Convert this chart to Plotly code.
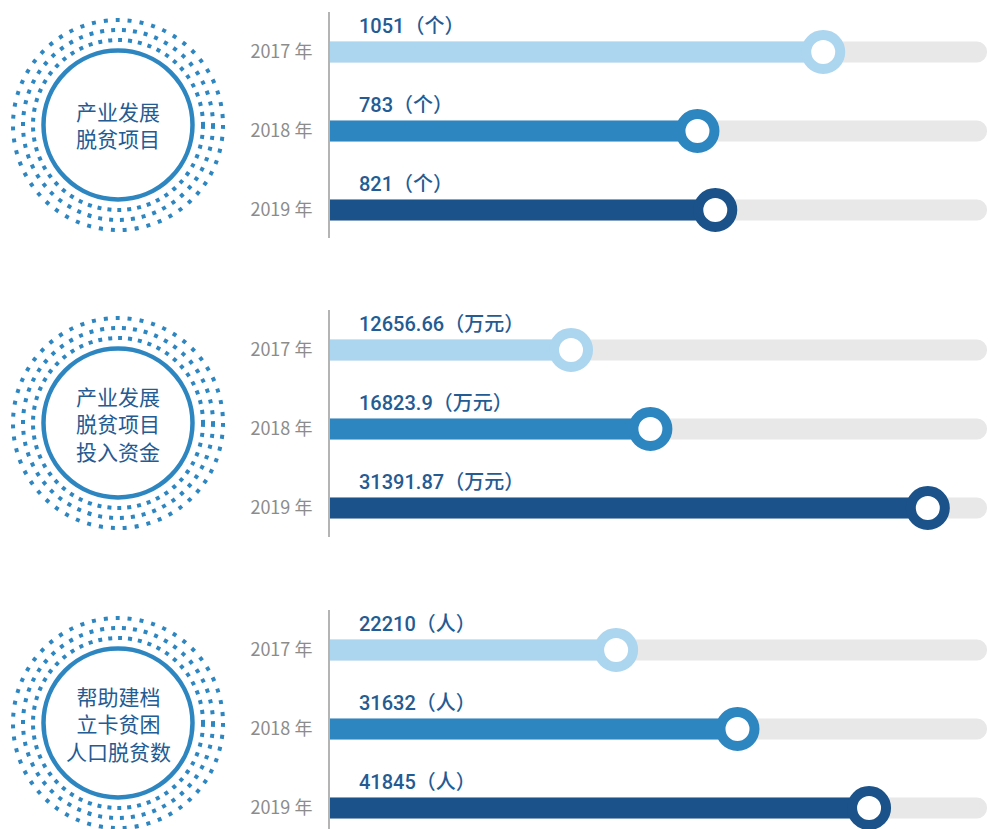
import plotly.graph_objects as go

# ---------------- data ----------------
years = ["2017 年", "2018 年", "2019 年"]
panel_titles = [
    "产业发展<br>脱贫项目",
    "产业发展<br>脱贫项目<br>投入资金",
    "帮助建档<br>立卡贫困<br>人口脱贫数",
]
values_projects = [1051, 783, 821]
values_funds = [12656.66, 16823.9, 31391.87]
values_people = [22210, 31632, 41845]
value_texts_projects = ["1051（个）", "783（个）", "821（个）"]
value_texts_funds = ["12656.66（万元）", "16823.9（万元）", "31391.87（万元）"]
value_texts_people = ["22210（人）", "31632（人）", "41845（人）"]
axis_max = [1400, 34500, 51000]

panels_values = [values_projects, values_funds, values_people]
panels_texts = [value_texts_projects, value_texts_funds, value_texts_people]

# ---------------- style ----------------
W, H = 988, 829
year_colors = ["#acd5ef", "#2e86c1", "#1a5289"]
track_color = "#e8e8e8"
text_blue = "#245b92"
ring_blue = "#2e86c1"
year_gray = "#8c8c8c"

X_LEFT, X_RIGHT = 330, 987
SPACING = 79.0
bar_centers = [52, 350, 650]
axis_spans = [(12, 238), (310, 537), (610, 829)]
badge_centers = [(118, 125), (118, 423), (118, 723)]

fig = go.Figure()
layout_axes = {}
annotations = []
shapes = []

for p in range(3):
    ax = "" if p == 0 else str(p + 1)
    xa, ya = "x" + ax, "y" + ax
    vals = panels_values[p]
    # track
    fig.add_trace(go.Bar(
        x=[axis_max[p]] * 3, y=years, orientation="h", width=0.266,
        marker=dict(color=track_color, cornerradius=10, line=dict(width=0)),
        xaxis=xa, yaxis=ya, hoverinfo="skip", showlegend=False))
    # value bars
    fig.add_trace(go.Bar(
        x=vals, y=years, orientation="h", width=0.266,
        marker=dict(color=year_colors, line=dict(width=0)),
        xaxis=xa, yaxis=ya, hoverinfo="skip", showlegend=False))
    # end markers
    fig.add_trace(go.Scatter(
        x=vals, y=years, mode="markers",
        marker=dict(size=34, color="white", line=dict(width=10, color=year_colors)),
        xaxis=xa, yaxis=ya, hoverinfo="skip", showlegend=False, cliponaxis=False))

    c0 = bar_centers[p]
    top, bot = axis_spans[p]
    top_idx = -(c0 - top) / SPACING
    bot_idx = (bot - c0) / SPACING
    layout_axes["xaxis" + ax] = dict(
        domain=[X_LEFT / W, X_RIGHT / W], range=[0, axis_max[p]],
        visible=False, anchor=ya, fixedrange=True)
    layout_axes["yaxis" + ax] = dict(
        domain=[1 - bot / H, 1 - top / H], range=[bot_idx, top_idx],
        type="category", categoryorder="array", categoryarray=years,
        anchor=xa, showline=True, linecolor="#b4b4b4", linewidth=2,
        showgrid=False, zeroline=False, ticks="", ticklabelstandoff=12,
        tickfont=dict(family="Noto Sans CJK SC", size=18, color=year_gray),
        fixedrange=True)

    for i, t in enumerate(panels_texts[p]):
        annotations.append(dict(
            x=0, y=years[i], xref=xa, yref=ya, text=t, showarrow=False,
            xanchor="left", yanchor="middle", xshift=27, yshift=26,
            font=dict(family="Roboto, Noto Sans CJK SC", size=20, weight=500,
                      color=text_blue)))

    cx, cy = badge_centers[p]
    annotations.append(dict(
        x=cx / W, y=1 - cy / H, xref="paper", yref="paper",
        text=panel_titles[p], showarrow=False, xanchor="center", yanchor="middle",
        font=dict(family="Noto Sans CJK SC", size=21, color=text_blue)))

    def circ(r, width, dash):
        return dict(type="circle", xref="paper", yref="paper",
                    x0=(cx - r) / W, x1=(cx + r) / W,
                    y0=1 - (cy + r) / H, y1=1 - (cy - r) / H,
                    line=dict(color=ring_blue, width=width, dash=dash),
                    fillcolor="rgba(0,0,0,0)", layer="above")
    shapes.append(circ(74.5, 4.5, "solid"))
    shapes.append(circ(105, 4, "4px,8px"))
    shapes.append(circ(95, 4, "4px,7px"))
    shapes.append(circ(85, 4, "4px,6px"))

fig.update_layout(
    width=W, height=H, margin=dict(l=0, r=0, t=0, b=0),
    paper_bgcolor="white", plot_bgcolor="white",
    barmode="overlay", showlegend=False, hovermode=False,
    annotations=annotations, shapes=shapes, **layout_axes)

fig.write_html("out.html", config={"displayModeBar": False})

# remove the default browser body margin so the figure fills the window exactly
with open("out.html", "r", encoding="utf-8") as f:
    html = f.read()
html = html.replace("<head>", "<head><style>html,body{margin:0;padding:0;overflow:hidden;}</style>", 1)
with open("out.html", "w", encoding="utf-8") as f:
    f.write(html)
